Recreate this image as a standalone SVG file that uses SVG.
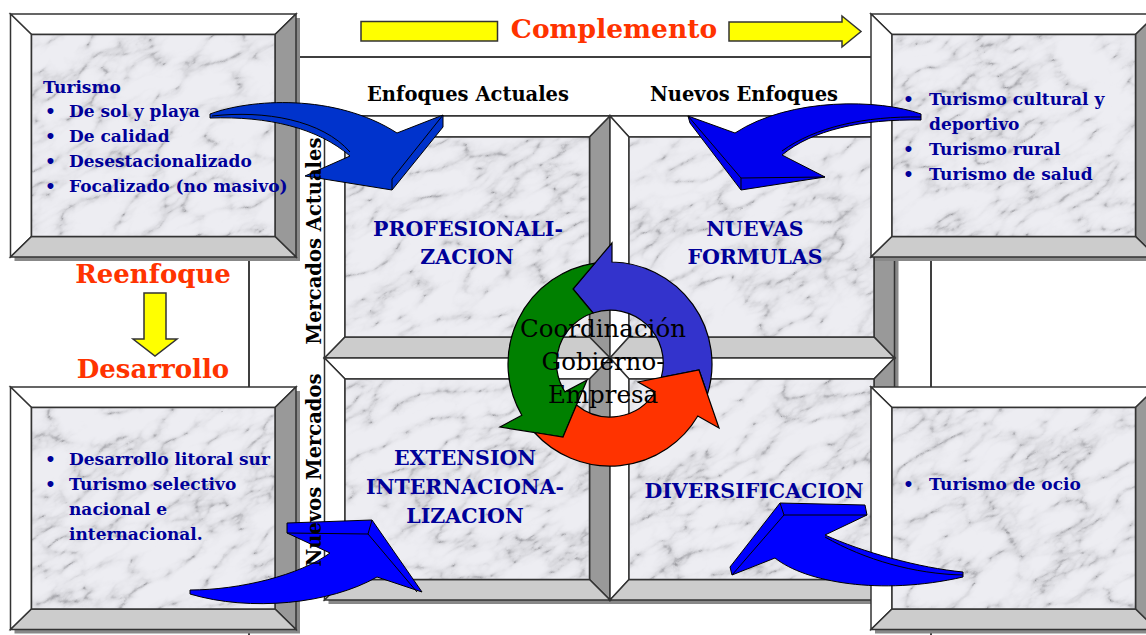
<svg xmlns="http://www.w3.org/2000/svg" width="1146" height="635" viewBox="0 0 1146 635">
<defs>
<filter id="mf" filterUnits="userSpaceOnUse" x="0" y="0" width="1600" height="1600" color-interpolation-filters="sRGB">
<feTurbulence type="turbulence" baseFrequency="0.018 0.036" numOctaves="4" seed="11" stitchTiles="stitch" result="t"/>
<feColorMatrix in="t" type="matrix" values="1 0 0 0 0  1 0 0 0 0  1 0 0 0 0  0 0 0 0 1" result="g"/>
<feComponentTransfer in="g">
<feFuncR type="table" tableValues="0.62 0.84 0.9 0.92 0.93 0.93 0.93 0.93 0.93 0.93"/>
<feFuncG type="table" tableValues="0.62 0.84 0.9 0.92 0.93 0.93 0.93 0.93 0.93 0.93"/>
<feFuncB type="table" tableValues="0.64 0.86 0.92 0.94 0.95 0.95 0.95 0.95 0.95 0.95"/>
</feComponentTransfer>
</filter>
<pattern id="mp" patternUnits="userSpaceOnUse" x="0" y="0" width="1600" height="1600" patternTransform="rotate(-30)">
<rect width="1600" height="1600" filter="url(#mf)"/>
</pattern>
</defs>
<style>
.bv{stroke:#333;stroke-width:1.5;stroke-linejoin:miter}
.w{fill:#fff}.d{fill:#999}.l{fill:#ccc}.sh{fill:#888}
.mb{fill:url(#mp);stroke:#333;stroke-width:1.5}
.bt{font-family:"DejaVu Serif","Liberation Serif",serif;font-weight:bold;font-size:17px;fill:#000099}
.ql{font-family:"DejaVu Serif","Liberation Serif",serif;font-weight:bold;font-size:20.5px;fill:#000099;text-anchor:middle}
.hd{font-family:"DejaVu Serif","Liberation Serif",serif;font-weight:bold;font-size:19.5px;fill:#000;text-anchor:middle}
.rd{font-family:"DejaVu Serif","Liberation Serif",serif;font-weight:bold;fill:#ff3300;text-anchor:middle}
.ct{font-family:"DejaVu Serif","Liberation Serif",serif;font-size:24.5px;fill:#000;text-anchor:middle}
.frm{fill:none;stroke:#000;stroke-width:1.5}
.ya{fill:#ffff00;stroke:#333;stroke-width:1.5}
.ba{stroke:#000;stroke-width:1;stroke-linejoin:round}
.bl{fill:none;stroke:#000;stroke-width:1}
.cy{stroke:#000;stroke-width:1.2}
</style>

<g id="frame">
<rect x="249" y="57" width="682" height="610" fill="#fff" stroke="#000" stroke-width="1.5"/>
<line class="frm" x1="249" y1="116" x2="931" y2="116"/>
</g>

<g id="header">
<text class="rd" x="614" y="38" font-size="26.5">Complemento</text>
<text class="hd" x="468" y="101">Enfoques Actuales</text>
<text class="hd" x="744" y="101">Nuevos Enfoques</text>
<text class="rd" x="153" y="283" font-size="26">Reenfoque</text>
<text class="rd" x="153" y="378" font-size="26">Desarrollo</text>
</g>

<g id="quad-shadow"><rect class="sh" x="328.5" y="120" width="570" height="484"/></g>

<g id="quad-profesionalizacion">
<polygon class="bv w" points="324.5,116 610,116 589.5,137 345,137"/>
<polygon class="bv w" points="324.5,116 345,137 345,337 324.5,358"/>
<polygon class="bv d" points="610,116 610,358 589.5,337 589.5,137"/>
<polygon class="bv l" points="324.5,358 345,337 589.5,337 610,358"/>
<rect class="mb" x="345" y="137" width="244.5" height="200"/>
<text class="ql" x="468" y="236">PROFESIONALI-</text>
<text class="ql" x="467" y="264">ZACION</text>
</g>

<g id="quad-nuevas-formulas">
<polygon class="bv w" points="610,116 894.5,116 874,137 629,137"/>
<polygon class="bv w" points="610,116 629,137 629,337 610,358"/>
<polygon class="bv d" points="894.5,116 894.5,358 874,337 874,137"/>
<polygon class="bv l" points="610,358 629,337 874,337 894.5,358"/>
<rect class="mb" x="629" y="137" width="245" height="200"/>
<text class="ql" x="755" y="236">NUEVAS</text>
<text class="ql" x="755" y="264">FORMULAS</text>
</g>

<g id="quad-extension">
<polygon class="bv w" points="324.5,358 610,358 589.5,379 345,379"/>
<polygon class="bv w" points="324.5,358 345,379 345,579.5 324.5,600"/>
<polygon class="bv d" points="610,358 610,600 589.5,579.5 589.5,379"/>
<polygon class="bv l" points="324.5,600 345,579.5 589.5,579.5 610,600"/>
<rect class="mb" x="345" y="379" width="244.5" height="200.5"/>
<text class="ql" x="465" y="465">EXTENSION</text>
<text class="ql" x="465" y="494">INTERNACIONA-</text>
<text class="ql" x="465" y="523">LIZACION</text>
</g>

<g id="quad-diversificacion">
<polygon class="bv w" points="610,358 894.5,358 874,379 629,379"/>
<polygon class="bv w" points="610,358 629,379 629,579.5 610,600"/>
<polygon class="bv d" points="894.5,358 894.5,600 874,579.5 874,379"/>
<polygon class="bv l" points="610,600 629,579.5 874,579.5 894.5,600"/>
<rect class="mb" x="629" y="379" width="245" height="200.5"/>
<text class="ql" x="754" y="498">DIVERSIFICACION</text>
</g>

<g id="box-top-left">
<rect class="sh" x="14.5" y="18" width="285.5" height="243"/>
<polygon class="bv w" points="10.5,14 296,14 275,34.5 31.5,34.5"/>
<polygon class="bv w" points="10.5,14 31.5,34.5 31.5,236.5 10.5,257"/>
<polygon class="bv d" points="296,14 296,257 275,236.5 275,34.5"/>
<polygon class="bv l" points="10.5,257 31.5,236.5 275,236.5 296,257"/>
<rect class="mb" x="31.5" y="34.5" width="243.5" height="202"/>
<text class="bt" x="43" y="93">Turismo</text>
<text class="bt" x="45" y="117">•</text><text class="bt" x="69" y="117">De sol y playa</text>
<text class="bt" x="45" y="142">•</text><text class="bt" x="69" y="142">De calidad</text>
<text class="bt" x="45" y="167">•</text><text class="bt" x="69" y="167">Desestacionalizado</text>
<text class="bt" x="45" y="192">•</text><text class="bt" x="69" y="192">Focalizado (no masivo)</text>
</g>

<g id="box-top-right">
<rect class="sh" x="875" y="18" width="285.5" height="243"/>
<polygon class="bv w" points="871,14 1156.5,14 1135.5,34.5 892,34.5"/>
<polygon class="bv w" points="871,14 892,34.5 892,236.5 871,257"/>
<polygon class="bv d" points="1156.5,14 1156.5,257 1135.5,236.5 1135.5,34.5"/>
<polygon class="bv l" points="871,257 892,236.5 1135.5,236.5 1156.5,257"/>
<rect class="mb" x="892" y="34.5" width="243.5" height="202"/>
<text class="bt" x="903" y="105">•</text><text class="bt" x="929" y="105">Turismo cultural y</text>
<text class="bt" x="929" y="130">deportivo</text>
<text class="bt" x="903" y="155">•</text><text class="bt" x="929" y="155">Turismo rural</text>
<text class="bt" x="903" y="180">•</text><text class="bt" x="929" y="180">Turismo de salud</text>
</g>

<g id="box-bottom-left">
<rect class="sh" x="14.5" y="391" width="285.5" height="242.5"/>
<polygon class="bv w" points="10.5,387 296,387 275,407.5 31.5,407.5"/>
<polygon class="bv w" points="10.5,387 31.5,407.5 31.5,609 10.5,629.5"/>
<polygon class="bv d" points="296,387 296,629.5 275,609 275,407.5"/>
<polygon class="bv l" points="10.5,629.5 31.5,609 275,609 296,629.5"/>
<rect class="mb" x="31.5" y="407.5" width="243.5" height="201.5"/>
<text class="bt" x="45" y="465">•</text><text class="bt" x="69" y="465">Desarrollo litoral sur</text>
<text class="bt" x="45" y="490">•</text><text class="bt" x="69" y="490">Turismo selectivo</text>
<text class="bt" x="69" y="515">nacional e</text>
<text class="bt" x="69" y="540">internacional.</text>
</g>

<g id="box-bottom-right">
<rect class="sh" x="875" y="391" width="285.5" height="242.5"/>
<polygon class="bv w" points="871,387 1156.5,387 1135.5,407.5 892,407.5"/>
<polygon class="bv w" points="871,387 892,407.5 892,609 871,629.5"/>
<polygon class="bv d" points="1156.5,387 1156.5,629.5 1135.5,609 1135.5,407.5"/>
<polygon class="bv l" points="871,629.5 892,609 1135.5,609 1156.5,629.5"/>
<rect class="mb" x="892" y="407.5" width="243.5" height="201.5"/>
<text class="bt" x="903" y="490">•</text><text class="bt" x="929" y="490">Turismo de ocio</text>
</g>

<g id="cycle">
<path class="cy" fill="#3333cc" d="M612,243 L612,262 A102,102 0 0 1 707.4,394.3 L699,370 L661.3,377.4 A53,53 0 0 0 593,313 L573,289 Z"/>
<path class="cy" fill="#008000" d="M594.9,263.1 A102,102 0 0 0 521.8,415.2 L500,427 L563,437 L587,380 L564.9,391.9 A53,53 0 0 1 593,313 L573,289 Z"/>
<path class="cy" fill="#ff3300" d="M534.4,432.5 A102,102 0 0 0 697.8,416 L719,428 L699,370 L638,382 L655.2,391.7 A53,53 0 0 1 576.5,405 L563,437 Z"/>
<text class="ct" x="603" y="337">Coordinación</text>
<text class="ct" x="603" y="370">Gobierno-</text>
<text class="ct" x="603" y="403">Empresa</text>
</g>

<g id="connectors">
<rect class="ya" x="361" y="21.5" width="136.5" height="19.5"/>
<polygon class="ya" points="729,22 842,22 842,16 861,31.5 842,47 842,41 729,41"/>
<polygon class="ya" points="144,293 166,293 166,339 177,339 155,356 133,339 144,339"/>
<path class="ba" fill="#0033cc" d="M210,114 C250,99 335,93 397,133 L443,115 L443,127 L392,190 L305,176 L350,156 C318,128 268,116 210,118 Z"/>
<path class="bl" d="M443,115 L392,179 L392,190 M212,116 C265,110 322,120 350,152"/>
<path class="ba" fill="#0000ee" d="M921,114 C880,99 790,97 735,133 L688,116 L690,123 L741,190 L825,177 L782,155 C812,130 862,119 921,120 Z"/>
<path class="bl" d="M688,116 L741,178 L741,190 M741,178 L825,177 M782,151 C815,127 865,116 921,117"/>
<path class="ba" fill="#0000ff" d="M190,590 C240,590 300,575 330,553 L287,533 L287,523 L372,520 L422,592 L377,577 C330,604 250,612 190,594 Z"/>
<path class="bl" d="M287,533 L368,534 L417,592 M368,534 L372,520"/>
<path class="ba" fill="#0000ff" d="M963,572 C920,568 862,552 825,535 L867,515 L865,505 L780,503 L730,567 L732,575 L775,558 C805,582 880,596 963,577 Z"/>
<path class="bl" d="M867,515 L784,515 L732,575 M784,515 L780,503 M825,537 C865,560 915,574 963,575"/>
</g>

<g id="axis-labels">
<text class="hd" transform="translate(321,241) rotate(-90)">Mercados Actuales</text>
<text class="hd" transform="translate(321,470) rotate(-90)">Nuevos Mercados</text>
</g>
</svg>
